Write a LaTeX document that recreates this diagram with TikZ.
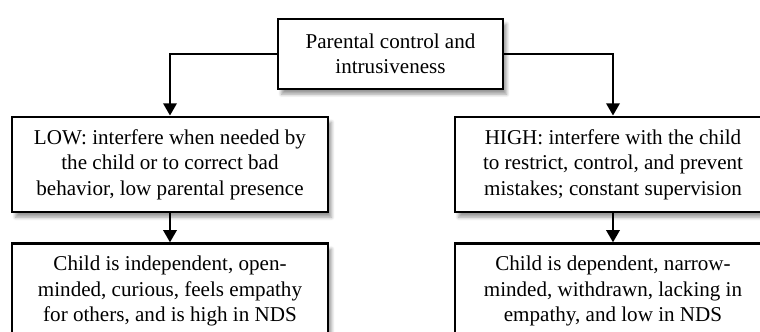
\documentclass[tikz,border=0pt]{standalone}
\usepackage{fontspec}
\setmainfont{Liberation Serif}
\usetikzlibrary{positioning,arrows.meta,shadows.blur}

\begin{document}
\begin{tikzpicture}[
  font=\fontsize{12}{14.5}\selectfont, >={Triangle[length=7pt,width=7.5pt]}, node distance=5.8mm,
  box/.style={draw,line width=1.6pt,fill=white,align=center,minimum width=6.32cm,minimum height=1.9cm,
    blur shadow={shadow xshift=2pt,shadow yshift=-3pt,shadow blur steps=6}},
  link/.style={->,line width=1.6pt}
]
\clip (0,0) rectangle (15.2,-6.64);
\node[box,minimum width=4.5cm,minimum height=1.4cm] (ctrl) at (7.81,-1.08) {Parental control and\\intrusiveness};
\node[box] (low) at (3.4,-3.29) {LOW: interfere when needed by\\the child or to correct bad\\behavior, low parental presence};
\node[box] (high) at (12.26,-3.29) {HIGH: interfere with the child\\to restrict, control, and prevent\\mistakes; constant supervision};
\node[box,below=of low] (lowkid) {Child is independent, open-\\minded, curious, feels empathy\\for others, and is high in NDS};
\node[box,below=of high] (highkid) {Child is dependent, narrow-\\minded, withdrawn, lacking in\\empathy, and low in NDS};
\draw[link] (ctrl.west) -| (low.north);
\draw[link] (ctrl.east) -| (high.north);
\draw[link] (low) -- (lowkid);
\draw[link] (high) -- (highkid);
\end{tikzpicture}
\end{document}
